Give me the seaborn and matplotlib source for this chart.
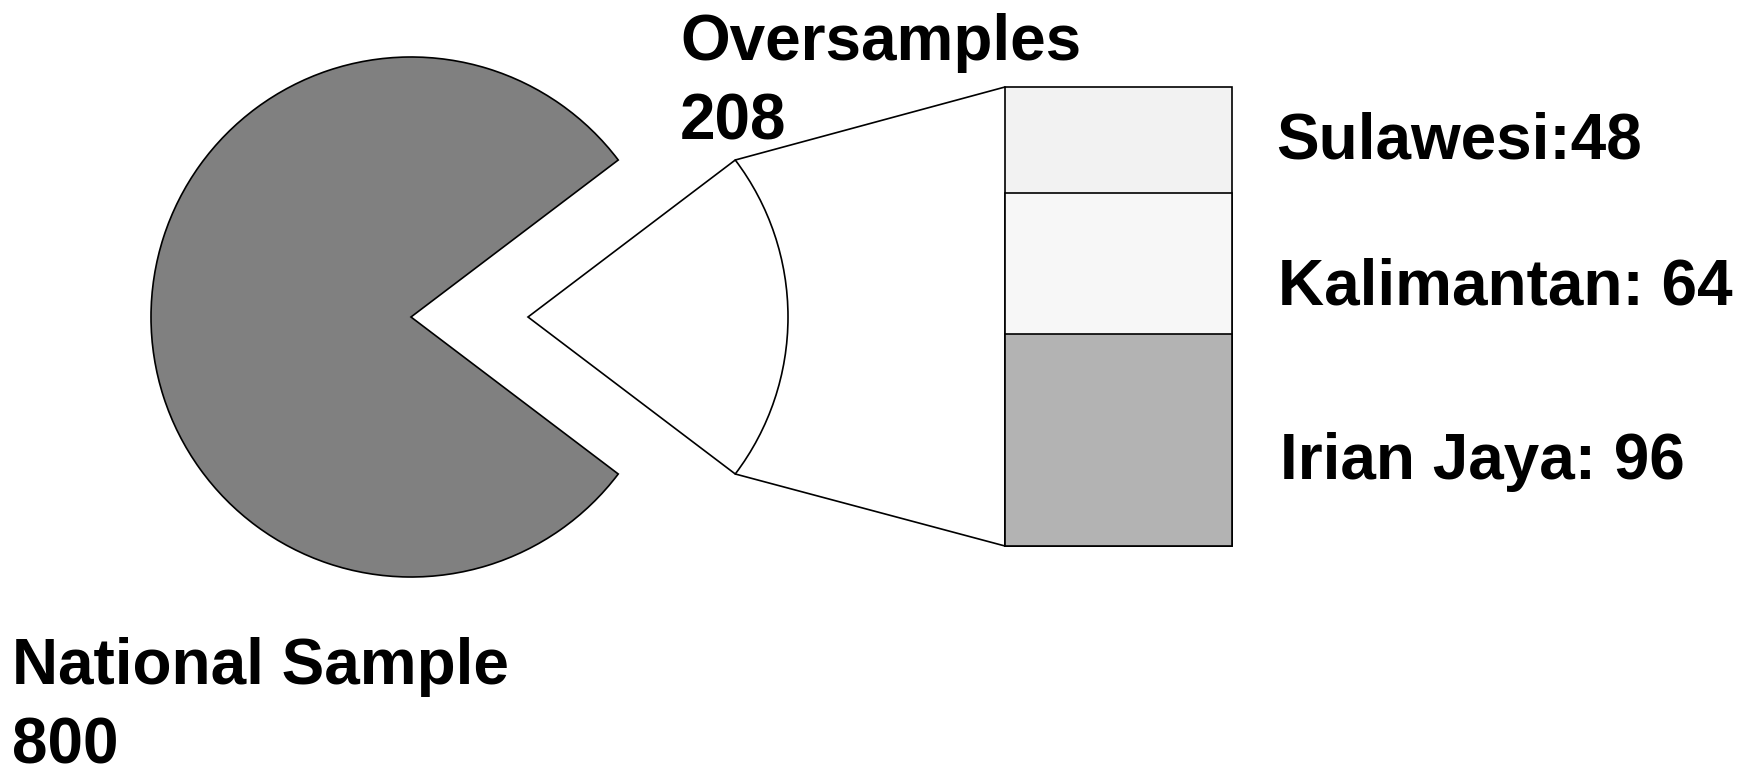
import numpy as np
import matplotlib
matplotlib.use("Agg")
import matplotlib.pyplot as plt
from matplotlib.patches import ConnectionPatch
import seaborn as sns

# data
pie_names = ["National Sample", "Oversamples"]
pie_values = [800, 208]
pie_colors = ["#808080", "#ffffff"]

region_names = ["Irian Jaya", "Kalimantan", "Sulawesi"]   # bottom -> top
region_values = [96, 64, 48]
region_labels = ["Irian Jaya: 96", "Kalimantan: 64", "Sulawesi:48"]
region_colors = ["#b3b3b3", "#f7f7f7", "#f2f2f2"]

sns.set_theme(style="white")
plt.rcParams["font.family"] = ["Liberation Sans", "DejaVu Sans"]
plt.rcParams["font.weight"] = "bold"
plt.rcParams["text.color"] = "black"

W, H = 1758, 767
fig = plt.figure(figsize=(W / 100, H / 100), dpi=100)
fig.patch.set_facecolor("white")

# pie axes: centre at (411, 317) px, radius 260 px
R = 260
cx, cy = 411, 317
ax_pie = fig.add_axes([(cx - R) / W, (H - cy - R) / H, 2.6 * R / W, 2 * R / H])
half = 180 * pie_values[1] / sum(pie_values)
explode = 0.45
ax_pie.pie(pie_values, colors=pie_colors, startangle=half,
           explode=[0, explode], radius=1,
           wedgeprops=dict(edgecolor="black", linewidth=1.2))
ax_pie.set_aspect("auto")
ax_pie.set_xlim(-1, 1.6)
ax_pie.set_ylim(-1, 1)
ax_pie.axis("off")

# stacked bar axes
bx0, bx1, by0, by1 = 1005, 1232, 87, 546
ax_bar = fig.add_axes([bx0 / W, (H - by1) / H, (bx1 - bx0) / W, (by1 - by0) / H])
cum = np.cumsum(region_values)
for top, col in zip(cum[::-1], region_colors[::-1]):
    sns.barplot(x=["Oversamples"], y=[top], color=col, saturation=1, width=1,
                edgecolor="black", linewidth=1.2, ax=ax_bar)
ax_bar.set_xlim(-0.5, 0.5)
ax_bar.set_ylim(0, cum[-1])
ax_bar.axis("off")
for p in ax_bar.patches:
    p.set_clip_on(False)

# connector lines from slice to bar
t = np.deg2rad(half)
for sgn, yb in [(1, cum[-1]), (-1, 0)]:
    con = ConnectionPatch(xyA=(explode + np.cos(t), sgn * np.sin(t)), coordsA=ax_pie.transData,
                          xyB=(-0.5, yb), coordsB=ax_bar.transData,
                          color="black", linewidth=1.2)
    fig.add_artist(con)

# region labels
centers = cum - np.array(region_values) / 2
dxs = [48, 46, 44]
dys = [-39, -41, -19]
for lab, c, dx, dy in zip(region_labels, centers, dxs, dys):
    ax_bar.annotate(lab, xy=(0.5, c), xytext=(dx, dy), textcoords="offset pixels",
                    fontsize=46, fontweight="bold", va="baseline", ha="left",
                    color="black", annotation_clip=False)

# pie labels
fig.text(12 / W, 1 - 637 / H, f"{pie_names[0]}\n{pie_values[0]}", fontsize=46,
         fontweight="bold", va="top", ha="left", linespacing=1.41, color="black")
fig.text(680 / W, 1 - 13 / H, f"{pie_names[1]}\n{pie_values[1]}", fontsize=46,
         fontweight="bold", va="top", ha="left", linespacing=1.41, color="black")

fig.savefig("out.png", dpi=100, facecolor="white")
